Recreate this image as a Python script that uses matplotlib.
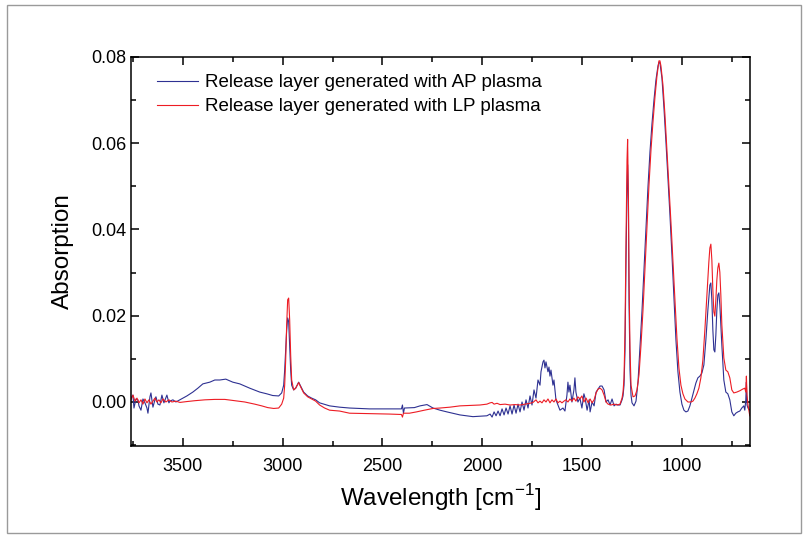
import numpy as np
import matplotlib
matplotlib.use("Agg")
import matplotlib.pyplot as plt
from matplotlib.patches import Rectangle
from matplotlib.ticker import MultipleLocator

plt.rcParams['font.family'] = ['Liberation Sans', 'DejaVu Sans']

# AP plasma spectrum (wavenumber cm-1, absorption)
wn_ap = [3760, 3750, 3745, 3735, 3725, 3720, 3710, 3700, 3690, 3680, 3675, 3665, 3660, 3650,
         3640, 3635, 3625, 3615, 3605, 3595, 3580, 3570, 3565, 3550, 3535, 3515, 3500, 3480,
         3450, 3425, 3400, 3365, 3340, 3315, 3285, 3250, 3215, 3165, 3115, 3080, 3050, 3020,
         3005, 2995, 2990, 2985, 2980, 2975, 2970, 2965, 2960, 2955, 2945, 2935, 2920, 2910,
         2895, 2875, 2855, 2835, 2815, 2765, 2715, 2665, 2565, 2465, 2405, 2400, 2395, 2390,
         2340, 2312, 2277, 2247, 2212, 2177, 2112, 2047, 1977, 1961, 1951, 1941, 1931, 1921,
         1911, 1901, 1891, 1881, 1871, 1861, 1851, 1841, 1831, 1821, 1811, 1801, 1791, 1781,
         1771, 1761, 1751, 1741, 1731, 1721, 1711, 1706, 1696, 1691, 1686, 1681, 1671, 1666,
         1661, 1656, 1646, 1641, 1631, 1621, 1611, 1596, 1586, 1576, 1571, 1566, 1561, 1551,
         1541, 1536, 1531, 1521, 1511, 1501, 1491, 1485, 1475, 1465, 1460, 1450, 1440, 1430,
         1420, 1410, 1400, 1390, 1380, 1370, 1360, 1350, 1340, 1330, 1320, 1310, 1300, 1295,
         1290, 1285, 1280, 1275, 1272, 1268, 1265, 1260, 1255, 1250, 1240, 1230, 1220, 1210,
         1200, 1190, 1180, 1170, 1160, 1150, 1140, 1130, 1120, 1115, 1110, 1100, 1090, 1080,
         1070, 1060, 1050, 1040, 1030, 1020, 1010, 1000, 990, 980, 970, 960, 950, 940, 930,
         920, 910, 900, 890, 880, 870, 860, 855, 850, 845, 840, 835, 830, 825, 820, 815, 810,
         800, 790, 780, 770, 760, 750, 740, 730, 720, 710, 700, 690, 685, 680, 677, 674, 669, 660]
abs_ap = [0.0009, 0.0016, -0.0014, 0.0007, 0.0005, -0.0009, -0.0019, 0.0007, -0.0002, -0.0014,
          -0.0026, 0.0012, 0.0021, -0.0012, 0.0005, 0.0012, -0.0005, -0.0007, 0.0016, -0.0002,
          0.0016, -0.0002, 0.0002, 0.0005, 0.0000, 0.0005, 0.0009, 0.0014, 0.0023, 0.0032,
          0.0042, 0.0046, 0.0051, 0.0051, 0.0053, 0.0046, 0.0042, 0.0032, 0.0023, 0.0019,
          0.0015, 0.0014, 0.0021, 0.0039, 0.0074, 0.0121, 0.0167, 0.0195, 0.0186, 0.0132,
          0.0074, 0.0039, 0.0028, 0.0032, 0.0046, 0.0037, 0.0023, 0.0014, 0.0009, 0.0005,
          -0.0002, -0.0009, -0.0012, -0.0014, -0.0016, -0.0016, -0.0016, -0.0007, -0.0026, -0.0014,
          -0.0013, -0.0009, -0.0006, -0.0014, -0.0019, -0.0023, -0.0030, -0.0034, -0.0032, -0.0028,
          -0.0035, -0.0023, -0.0032, -0.0021, -0.0032, -0.0016, -0.0030, -0.0014, -0.0028, -0.0009,
          -0.0028, -0.0007, -0.0026, -0.0005, -0.0023, 0.0000, -0.0019, 0.0005, -0.0014, 0.0014,
          -0.0007, 0.0028, 0.0009, 0.0051, 0.0039, 0.0070, 0.0093, 0.0097, 0.0079, 0.0093,
          0.0070, 0.0081, 0.0060, 0.0074, 0.0039, 0.0051, 0.0005, -0.0007, -0.0019, -0.0014,
          -0.0021, 0.0016, 0.0046, 0.0023, 0.0039, 0.0000, 0.0028, 0.0056, 0.0023, 0.0000,
          0.0009, -0.0014, 0.0019, 0.0009, -0.0019, 0.0005, -0.0023, 0.0000, -0.0009, 0.0023,
          0.0030, 0.0037, 0.0037, 0.0028, 0.0000, 0.0005, -0.0007, 0.0007, -0.0009, -0.0005,
          -0.0007, -0.0007, 0.0005, 0.0014, 0.0039, 0.0121, 0.0329, 0.0492, 0.0550, 0.0468,
          0.0237, 0.0074, 0.0016, -0.0002, -0.0009, 0.0002, 0.0046, 0.0130, 0.0211, 0.0306,
          0.0404, 0.0499, 0.0580, 0.0645, 0.0700, 0.0747, 0.0779, 0.0788, 0.0786, 0.0751,
          0.0682, 0.0603, 0.0519, 0.0434, 0.0341, 0.0241, 0.0144, 0.0070, 0.0023, -0.0005,
          -0.0019, -0.0023, -0.0021, -0.0009, 0.0009, 0.0028, 0.0044, 0.0056, 0.0060, 0.0067,
          0.0086, 0.0144, 0.0213, 0.0271, 0.0276, 0.0237, 0.0167, 0.0121, 0.0116, 0.0155,
          0.0213, 0.0248, 0.0253, 0.0225, 0.0132, 0.0051, 0.0023, 0.0019, 0.0005, -0.0023,
          -0.0032, -0.0026, -0.0023, -0.0021, -0.0014, -0.0009, -0.0019, 0.0005, 0.0046, -0.0007,
          -0.0014, -0.0019]

# LP plasma spectrum
wn_lp = [3760, 3750, 3740, 3730, 3720, 3710, 3700, 3690, 3680, 3670, 3660, 3650, 3640, 3630,
         3620, 3610, 3600, 3585, 3570, 3555, 3535, 3515, 3480, 3440, 3390, 3340, 3290, 3240,
         3190, 3140, 3105, 3075, 3045, 3020, 3005, 2995, 2990, 2985, 2980, 2975, 2970, 2965,
         2960, 2955, 2945, 2935, 2920, 2910, 2895, 2875, 2855, 2835, 2815, 2790, 2765, 2715,
         2665, 2565, 2465, 2405, 2400, 2395, 2365, 2330, 2290, 2247, 2212, 2162, 2112, 2062,
         2012, 1977, 1961, 1951, 1941, 1926, 1911, 1886, 1861, 1836, 1811, 1786, 1761, 1746,
         1731, 1721, 1711, 1701, 1691, 1681, 1671, 1661, 1651, 1641, 1631, 1621, 1611, 1601,
         1591, 1581, 1571, 1561, 1551, 1541, 1531, 1521, 1511, 1501, 1491, 1480, 1470, 1460,
         1450, 1440, 1430, 1420, 1410, 1400, 1390, 1380, 1370, 1355, 1340, 1325, 1310, 1300,
         1295, 1290, 1285, 1280, 1275, 1272, 1268, 1265, 1260, 1255, 1245, 1235, 1225, 1215,
         1205, 1195, 1185, 1175, 1165, 1155, 1145, 1135, 1125, 1115, 1110, 1105, 1095, 1085,
         1075, 1065, 1055, 1045, 1035, 1025, 1015, 1005, 995, 985, 970, 955, 945, 935, 925,
         915, 905, 895, 885, 875, 865, 860, 855, 850, 845, 840, 835, 830, 825, 820, 815, 810,
         805, 800, 790, 780, 770, 760, 750, 740, 725, 710, 695, 685, 680, 677, 674, 669, 660]
abs_lp = [0.0005, 0.0016, 0.0002, 0.0009, -0.0002, 0.0005, -0.0005, 0.0007, -0.0002, 0.0005,
          -0.0005, 0.0002, 0.0009, 0.0000, 0.0005, -0.0002, 0.0007, 0.0000, 0.0005, 0.0000,
          0.0002, -0.0001, 0.0001, 0.0003, 0.0005, 0.0006, 0.0006, 0.0003, 0.0000, -0.0005,
          -0.0009, -0.0013, -0.0015, -0.0014, -0.0005, 0.0009, 0.0039, 0.0097, 0.0179, 0.0237,
          0.0241, 0.0190, 0.0109, 0.0051, 0.0028, 0.0032, 0.0045, 0.0035, 0.0021, 0.0012,
          0.0007, 0.0002, -0.0007, -0.0014, -0.0019, -0.0021, -0.0026, -0.0027, -0.0028, -0.0029,
          -0.0035, -0.0026, -0.0026, -0.0023, -0.0019, -0.0015, -0.0014, -0.0012, -0.0009, -0.0008,
          -0.0007, -0.0005, -0.0002, -0.0001, -0.0005, -0.0003, -0.0006, -0.0005, -0.0007, -0.0006,
          -0.0007, -0.0005, -0.0003, -0.0001, 0.0005, -0.0002, 0.0002, -0.0002, 0.0005, 0.0000,
          0.0007, -0.0002, 0.0005, 0.0000, 0.0007, -0.0002, 0.0002, -0.0002, 0.0002, 0.0005,
          0.0000, 0.0007, 0.0002, 0.0009, 0.0002, 0.0012, 0.0007, 0.0014, 0.0000, 0.0009,
          -0.0002, 0.0007, -0.0002, 0.0005, 0.0021, 0.0030, 0.0032, 0.0028, 0.0016, 0.0000,
          -0.0005, -0.0007, -0.0005, -0.0007, -0.0005, 0.0009, 0.0023, 0.0056, 0.0167, 0.0376,
          0.0561, 0.0609, 0.0468, 0.0283, 0.0121, 0.0039, 0.0012, 0.0014, 0.0028, 0.0063,
          0.0132, 0.0213, 0.0311, 0.0410, 0.0503, 0.0584, 0.0649, 0.0707, 0.0756, 0.0791,
          0.0791, 0.0779, 0.0735, 0.0666, 0.0584, 0.0503, 0.0417, 0.0329, 0.0237, 0.0148,
          0.0079, 0.0039, 0.0019, 0.0007, 0.0000, 0.0000, 0.0002, 0.0009, 0.0019, 0.0032,
          0.0056, 0.0097, 0.0167, 0.0248, 0.0325, 0.0357, 0.0366, 0.0329, 0.0260, 0.0209,
          0.0199, 0.0237, 0.0283, 0.0311, 0.0322, 0.0301, 0.0248, 0.0179, 0.0102, 0.0074,
          0.0070, 0.0056, 0.0028, 0.0021, 0.0023, 0.0026, 0.0030, 0.0032, 0.0023, 0.0060,
          0.0016, -0.0007, -0.0032]

labels = ["Release layer generated with AP plasma", "Release layer generated with LP plasma"]
colors = ["#2e3192", "#ed1c24"]

fig = plt.figure(figsize=(8.08, 5.37), dpi=100)
ax = fig.add_axes([0.1621, 0.1695, 0.7661, 0.7244])

# outer frame around the figure
fig.patches.append(Rectangle((7 / 808, 4 / 537), 794 / 808, 528 / 537, transform=fig.transFigure,
                             fill=False, edgecolor="#9a9a9a", linewidth=1))

ax.plot(wn_ap, abs_ap, color=colors[0], lw=0.8, label=labels[0])
ax.plot(wn_lp, abs_lp, color=colors[1], lw=0.8, label=labels[1])

ax.set_xlim(3760, 659)
ax.set_ylim(-0.0102, 0.08)
ax.xaxis.set_major_locator(MultipleLocator(500))
ax.xaxis.set_minor_locator(MultipleLocator(250))
ax.yaxis.set_major_locator(MultipleLocator(0.02))
ax.yaxis.set_minor_locator(MultipleLocator(0.01))
ax.yaxis.set_major_formatter(plt.FuncFormatter(lambda v, p: f"{v:.2f}"))
ax.tick_params(which="both", direction="in", top=True, right=True, width=1.1, labelsize=13)
ax.tick_params(which="major", length=6)
ax.tick_params(which="minor", length=3.5)
ax.tick_params(axis="x", pad=9)
for s in ax.spines.values():
    s.set_linewidth(1.1)

ax.set_xlabel("Wavelength [cm$^{\\mathregular{-1}}$]", fontsize=17.5, labelpad=5)
ax.set_ylabel("Absorption", fontsize=17.5, labelpad=12)

ax.legend(loc="upper left", bbox_to_anchor=(0.027, 0.98), frameon=False, fontsize=13.5,
          handlelength=2.2, handletextpad=0.35, labelspacing=0.36, borderpad=0)

fig.savefig("out.png", dpi=100)
